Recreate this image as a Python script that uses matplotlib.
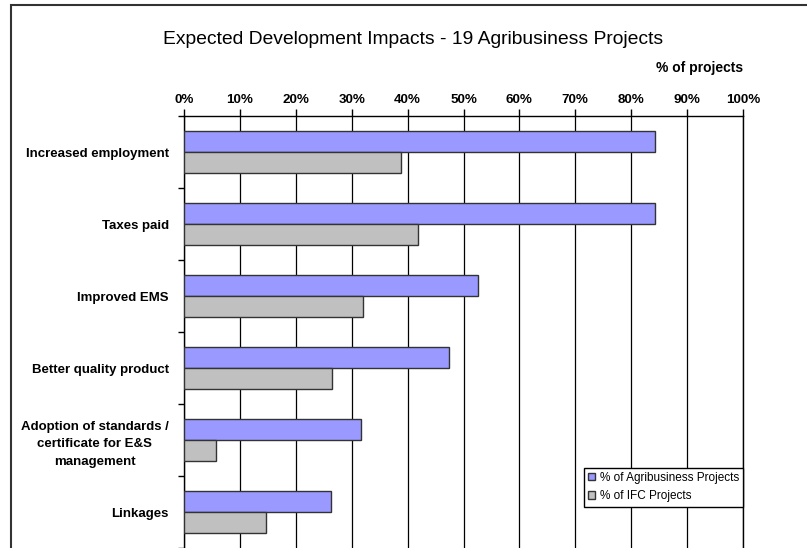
import numpy as np
import matplotlib
matplotlib.use("Agg")
import matplotlib.pyplot as plt
from matplotlib.patches import Rectangle, Patch

plt.rcParams['font.family'] = ['Liberation Sans', 'DejaVu Sans']

# データ
categories = ["Increased employment", "Taxes paid", "Improved EMS",
              "Better quality product",
              "Adoption of standards /\ncertificate for E&S\nmanagement",
              "Linkages"]
agri = [84.2, 84.2, 52.6, 47.4, 31.6, 26.3]   # % of Agribusiness Projects
ifc = [38.8, 41.9, 32.0, 26.5, 5.7, 14.7]     # % of IFC Projects
xticks = list(range(0, 101, 10))
xtick_labels = [f"{t}%" for t in xticks]

blue = "#9999FF"
gray = "#C0C0C0"
edge = "#333333"

fig = plt.figure(figsize=(8.07, 5.48), dpi=100)
ax = fig.add_axes([184 / 807, 0.0, 559 / 807, 432 / 548])

y = np.arange(len(categories))
h = 0.285
ax.barh(y - h / 2, agri, height=h, color=blue, edgecolor=edge, linewidth=1,
        label="% of Agribusiness Projects", zorder=3)
ax.barh(y + h / 2, ifc, height=h, color=gray, edgecolor=edge, linewidth=1,
        label="% of IFC Projects", zorder=3)

ax.set_xlim(0, 100)
ax.set_ylim(len(categories) - 0.5, -0.5)

# 上側の目盛り
ax.xaxis.tick_top()
ax.set_xticks(xticks)
ax.set_xticklabels(xtick_labels, fontsize=9.6, fontweight="bold")
ax.tick_params(axis="x", direction="out", length=5, width=1, pad=2)
ax.grid(axis="x", color="black", linewidth=0.9, zorder=0)

# 左側の目盛り (カテゴリ境界)
ax.set_yticks(y)
ax.set_yticklabels(categories, fontsize=9.5, fontweight="bold",
                   multialignment="center", linespacing=1.6)
ax.set_yticks(np.arange(len(categories) + 1) - 0.5, minor=True)
ax.tick_params(axis="y", which="major", length=0, pad=11)
ax.tick_params(axis="y", which="minor", direction="out", length=4, width=1)

for s in ["top", "left", "right"]:
    ax.spines[s].set_color("black")
    ax.spines[s].set_linewidth(1)
ax.spines["bottom"].set_visible(False)

fig.text(413 / 807, 1 - 44 / 548, "Expected Development Impacts - 19 Agribusiness Projects",
         ha="center", va="baseline", fontsize=13.9)
fig.text(743 / 807, 1 - 68 / 548, "% of projects", ha="right", va="center",
         fontsize=10, fontweight="bold")

handles = [Patch(facecolor=blue, edgecolor=edge), Patch(facecolor=gray, edgecolor=edge)]
leg = ax.legend(handles, ["% of Agribusiness Projects", "% of IFC Projects"],
                loc="lower right", bbox_to_anchor=(1.0, 0.096), fontsize=8.5,
                frameon=True, fancybox=False, framealpha=1, borderaxespad=0,
                handlelength=0.6, handleheight=0.6, handletextpad=0.4,
                borderpad=0.35, labelspacing=0.55)
leg.get_frame().set_edgecolor("black")
leg.get_frame().set_linewidth(1)
leg.set_zorder(5)

# 外枠
fig.patches.append(Rectangle((11 / 807, -0.05), 1.2, 1.05 - 5 / 548, transform=fig.transFigure,
                             fill=False, edgecolor="#333333", linewidth=1.5))

fig.savefig("out.png", dpi=100)
